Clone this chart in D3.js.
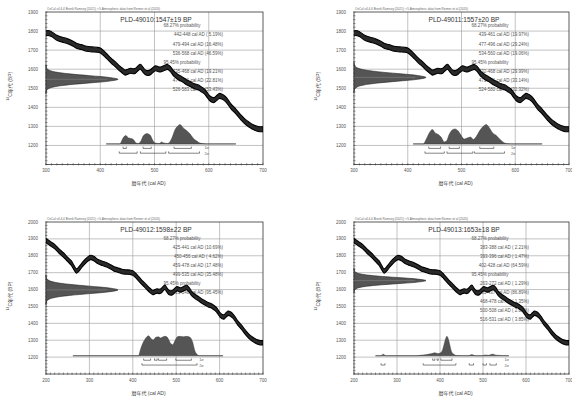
<!DOCTYPE html>
<html><head><meta charset="utf-8">
<script src="https://cdn.jsdelivr.net/npm/d3@7"></script>
<style>
body{margin:0;background:#fff}
svg{display:block}
text{font-family:"Liberation Sans",Arial,"Noto Sans CJK JP",sans-serif;white-space:pre}
</style>
</head><body>
<svg id="chart" width="572" height="397"></svg>
<script>
// ---- calibration curve (IntCal20) ----
const curveYears = [200,210,221,230,240,250,258,265,270,276,282,290,297,303,310,320,330,340,350,357,365,375,385,394,400,406,412,420,428,435,441,446,451,456,461,465,470,474,479,484,489,493,498,502,507,511,517,524,530,536,544,552,560,567,574,580,586,592,597,601,606,610,615,620,625,630,636,641,650,660,668,675,682,688,694,700];
const curveBP    = [1890,1872,1852,1828,1805,1778,1758,1728,1710,1722,1742,1765,1782,1790,1784,1765,1755,1746,1733,1722,1716,1707,1704,1702,1698,1685,1668,1645,1625,1606,1592,1582,1587,1592,1589,1592,1606,1613,1596,1582,1580,1585,1598,1605,1600,1598,1605,1612,1598,1575,1558,1545,1530,1520,1510,1505,1495,1483,1465,1450,1440,1438,1450,1460,1455,1445,1425,1405,1378,1345,1322,1308,1296,1289,1285,1285];

// ---- samples ----
const labIds  = ["PLD-49010","PLD-49011","PLD-49012","PLD-49013"];
const measBP  = [1547,1557,1598,1653];
const measErr = [19,20,22,18];

// ---- axes ----
const xDomainA = [300,700], xDomainB = [200,700];
const yDomainA = [1100,1900], yDomainB = [1100,2000];
const xTicksA = [300,400,500,600,700];
const xTicksB = [200,300,400,500,600,700];
const yTicksA = [1200,1300,1400,1500,1600,1700,1800,1900];
const yTicksB = [1200,1300,1400,1500,1600,1700,1800,1900,2000];

// ---- normal profile of measured date (z in sigma, relative width) ----
const gaussZ = [-4,-3.5,-3,-2.5,-2,-1.5,-1,-0.5,0,0.5,1,1.5,2,2.5,3,3.5,4];
const gaussW = [0.0003,0.0022,0.011,0.044,0.135,0.325,0.607,0.882,1,0.882,0.607,0.325,0.135,0.044,0.011,0.0022,0.0003];

// ---- calibrated distributions (relative probability) ----
const dist1Years = [411,436,442,447,452,457,461,466,470,475,479,486,492,497,501,509,513,517,525,532,538,544,547,553,559,565,571,578,584,595,650];
const dist1Prob  = [0,0,0.30,0.42,0.30,0.27,0.22,0.05,0.02,0.14,0.39,0.52,0.44,0.17,0.05,0.02,0.10,0.05,0.02,0.30,0.72,0.92,0.97,0.80,0.67,0.52,0.30,0.14,0.04,0,0];
const dist2Years = [410,429,434,440,446,451,457,462,468,472,477,484,488,494,499,505,511,517,522,528,534,541,546,552,558,564,570,577,583,595,650];
const dist2Prob  = [0,0,0.22,0.55,0.72,0.55,0.47,0.34,0.10,0.14,0.47,0.72,0.75,0.64,0.44,0.25,0.30,0.34,0.22,0.39,0.67,0.89,0.97,0.80,0.55,0.44,0.27,0.10,0.02,0,0];
const dist3Years = [262,413,418,424,430,436,441,447,453,459,464,470,476,482,487,492,497,503,509,516,524,532,538,543,549,553,608];
const dist3Prob  = [0,0,0.34,0.67,0.89,1.0,0.89,0.79,0.92,0.95,0.89,0.95,0.97,0.84,0.62,0.55,0.75,0.95,0.97,0.95,0.97,0.92,0.67,0.25,0.05,0,0];
const dist4Years = [250,262,268,274,345,353,369,381,388,396,404,408,412,416,419,423,427,433,439,466,474,482,497,505,513,518,524,530,560];
const dist4Prob  = [0,0,0.08,0,0,0.02,0.06,0.11,0.15,0.11,0.20,0.45,0.78,0.98,0.86,0.53,0.20,0.06,0.01,0,0.06,0,0,0.04,0.02,0.06,0.08,0.03,0];

// ---- calibrated ranges [from, to, percent] ----
const sig1Ranges1 = [[442,448,5.19],[479,494,16.48],[536,568,46.59]];
const sig2Ranges1 = [[435,468,19.21],[474,521,22.81],[526,583,53.43]];
const sig1Ranges2 = [[439,461,19.97],[477,496,29.24],[534,560,19.06]];
const sig2Ranges2 = [[432,468,29.99],[473,521,33.14],[524,580,32.32]];
const sig1Ranges3 = [[425,441,10.69],[450,456,4.62],[459,478,17.48],[499,535,35.48]];
const sig2Ranges3 = [[421,548,95.45]];
const sig1Ranges4 = [[383,388,2.21],[393,396,1.47],[402,428,64.59]];
const sig2Ranges4 = [[263,272,1.29],[361,437,86.89],[468,478,1.35],[500,508,2.07],[516,531,3.85]];

const oxcalNote = "OxCal v4.4.4 Bronk Ramsey (2021); r:5 Atmospheric data from Reimer et al (2020)";

// ---- assemble panels ----
const panelData = [
  {id:0, box:{left:46,right:263,top:12,bottom:164.5}, xd:xDomainA, yd:yDomainA, xt:xTicksA, yt:yTicksA,
   dy:dist1Years, dp:dist1Prob, s1:sig1Ranges1, s2:sig2Ranges1, sigLabelYear:592},
  {id:1, box:{left:354,right:569,top:12,bottom:164.5}, xd:xDomainA, yd:yDomainA, xt:xTicksA, yt:yTicksA,
   dy:dist2Years, dp:dist2Prob, s1:sig1Ranges2, s2:sig2Ranges2, sigLabelYear:592},
  {id:2, box:{left:46,right:263,top:222,bottom:374}, xd:xDomainB, yd:yDomainB, xt:xTicksB, yt:yTicksB,
   dy:dist3Years, dp:dist3Prob, s1:sig1Ranges3, s2:sig2Ranges3, sigLabelYear:553},
  {id:3, box:{left:354,right:569,top:222,bottom:374}, xd:xDomainB, yd:yDomainB, xt:xTicksB, yt:yTicksB,
   dy:dist4Years, dp:dist4Prob, s1:sig1Ranges4, s2:sig2Ranges4, sigLabelYear:550}
];

const svg = d3.select("#chart");
const curvePts = curveYears.map((y,i)=>({year:y, bp:curveBP[i]}));
const fmtPct = p => (p<10?" ":"") + p.toFixed(2) + "%";

panelData.forEach(P => {
  const b = P.box;
  const x = d3.scaleLinear().domain(P.xd).range([b.left,b.right]);
  const y = d3.scaleLinear().domain(P.yd).range([b.bottom,b.top]);
  const g = svg.append("g");
  const clipId = "clip"+P.id;
  g.append("clipPath").attr("id",clipId).append("rect")
    .attr("x",b.left).attr("y",b.top).attr("width",b.right-b.left).attr("height",b.bottom-b.top);

  // gridlines
  g.selectAll(".gx").data(P.xt.slice(1,-1)).join("line")
    .attr("x1",d=>x(d)).attr("x2",d=>x(d)).attr("y1",b.top).attr("y2",b.bottom)
    .attr("stroke","#9a9a9a").attr("stroke-width",0.6);
  g.selectAll(".gy").data(P.yt.filter(v=>v<P.yd[1])).join("line")
    .attr("x1",b.left).attr("x2",b.right).attr("y1",d=>y(d)).attr("y2",d=>y(d))
    .attr("stroke","#9a9a9a").attr("stroke-width",0.6);

  // minor ticks
  const xMinor = d3.range(P.xd[0], P.xd[1]+0.1, 10);
  g.selectAll(".mx").data(xMinor).join("line")
    .attr("x1",d=>x(d)).attr("x2",d=>x(d)).attr("y1",b.bottom-1.6).attr("y2",b.bottom+1)
    .attr("stroke","#444").attr("stroke-width",0.5);
  const yMinor = d3.range(P.yd[0], P.yd[1]+0.1, 20);
  g.selectAll(".my").data(yMinor).join("line")
    .attr("x1",b.left-1).attr("x2",b.left+1.6).attr("y1",d=>y(d)).attr("y2",d=>y(d))
    .attr("stroke","#444").attr("stroke-width",0.5);

  // frame
  g.append("rect").attr("x",b.left).attr("y",b.top).attr("width",b.right-b.left).attr("height",b.bottom-b.top)
    .attr("fill","none").attr("stroke","#333").attr("stroke-width",0.8);

  // tick labels
  g.selectAll(".tx").data(P.xt).join("text")
    .attr("x",d=>x(d)).attr("y",b.bottom+6).attr("dominant-baseline","central")
    .attr("text-anchor","middle").attr("font-size",4.5).attr("fill","#555").text(d=>d);
  g.selectAll(".ty").data(P.yt).join("text")
    .attr("x",b.left-8).attr("y",d=>y(d)).attr("dominant-baseline","central")
    .attr("text-anchor","end").attr("font-size",4.5).attr("fill","#555").text(d=>d);

  // axis titles
  g.append("text").attr("x",(b.left+b.right)/2-6).attr("y",b.bottom+18.5)
    .attr("dominant-baseline","central").attr("text-anchor","middle")
    .attr("font-size",5).attr("fill","#444").text("暦年代 (cal AD)");
  const yt = g.append("text").attr("transform",`translate(${b.left-36.5},${(b.top+b.bottom)/2-2}) rotate(-90)`)
    .attr("text-anchor","middle").attr("dominant-baseline","central").attr("font-size",5).attr("fill","#444");
  yt.append("tspan").attr("font-size",3.5).attr("dy",-1.5).text("14");
  yt.append("tspan").attr("dy",1.5).text("C年代 (BP)");

  // OxCal note
  g.append("text").attr("x",b.left+1).attr("y",b.top-2).attr("font-size",2.9).attr("fill","#666")
    .attr("textLength",113).attr("lengthAdjust","spacingAndGlyphs").text(oxcalNote);

  // title
  g.append("text").attr("x",b.left+110).attr("y",b.top+7.2).attr("dominant-baseline","central")
    .attr("text-anchor","middle").attr("font-size",6.6).attr("fill","#333")
    .text(`${labIds[P.id]}:${measBP[P.id]}±${measErr[P.id]} BP`);

  // probability texts
  const lines = [];
  lines.push({t:"68.27% probability", head:true});
  P.s1.forEach(r=>lines.push({t:`${r[0]}-${r[1]} cal AD (${fmtPct(r[2])})`}));
  lines.push({t:"95.45% probability", head:true});
  P.s2.forEach(r=>lines.push({t:`${r[0]}-${r[1]} cal AD (${fmtPct(r[2])})`}));
  const firstY = P.id<2 ? b.top+13.8 : b.top+16;
  g.selectAll(".pl").data(lines).join("text")
    .attr("x",d=>d.head ? b.left+117.5 : b.right-40)
    .attr("y",(d,i)=>firstY+i*9.1).attr("dominant-baseline","central")
    .attr("text-anchor",d=>d.head?"start":"end")
    .attr("font-size",4.5).attr("fill","#555").text(d=>d.t);

  // measured date gaussian on y axis
  const gw = 72;
  const gPts = gaussZ.map((z,i)=>({bp:measBP[P.id]+z*measErr[P.id], w:gaussW[i]}));
  g.append("path").datum(gPts)
    .attr("d", d3.area().y(d=>y(d.bp)).x0(b.left).x1(d=>b.left+d.w*gw).curve(d3.curveCatmullRom)(gPts))
    .attr("fill","#555").attr("stroke","#222").attr("stroke-width",0.6);
  g.append("line").attr("x1",b.left).attr("x2",b.left+gw*0.85)
    .attr("y1",y(measBP[P.id])).attr("y2",y(measBP[P.id])).attr("stroke","#999").attr("stroke-width",0.4);

  // calibrated distribution
  const base = y(1208);
  const hs = d3.scaleLinear().domain([0,1]).range([0,20]);
  const dPts = P.dy.map((yr,i)=>({yr, p:P.dp[i]}));
  g.append("line").attr("x1",x(P.dy[0])).attr("x2",x(P.dy[P.dy.length-1]))
    .attr("y1",base).attr("y2",base).attr("stroke","#888").attr("stroke-width",0.7);
  g.append("path")
    .attr("d", d3.area().x(d=>x(d.yr)).y0(base).y1(d=>base-hs(d.p)).curve(d3.curveMonotoneX)(dPts))
    .attr("fill","#555").attr("stroke","#333").attr("stroke-width",0.4);

  // range brackets
  const row1 = base+4.5, row2 = base+9.3;
  const br = (rs,row) => g.selectAll(null).data(rs).join("path")
    .attr("d",r=>`M${x(r[0])},${row-1.8}V${row}H${x(r[1])}V${row-1.8}`)
    .attr("fill","none").attr("stroke","#333").attr("stroke-width",0.6);
  br(P.s1,row1); br(P.s2,row2);
  g.append("text").attr("x",x(P.sigLabelYear)).attr("y",row1).attr("dominant-baseline","central")
    .attr("font-size",3.8).attr("fill","#666").text("1σ");
  g.append("text").attr("x",x(P.sigLabelYear)).attr("y",row2+0.8).attr("dominant-baseline","central")
    .attr("font-size",3.8).attr("fill","#666").text("2σ");

  // calibration curve (drawn on top)
  g.append("path").attr("clip-path",`url(#${clipId})`)
    .attr("d", d3.area().x(d=>x(d.year)).y0(d=>y(d.bp-13)).y1(d=>y(d.bp+13)).curve(d3.curveCatmullRom)(curvePts))
    .attr("fill","#2a2a2a").attr("stroke","#000").attr("stroke-width",1.1);
});
</script>
</body></html>
